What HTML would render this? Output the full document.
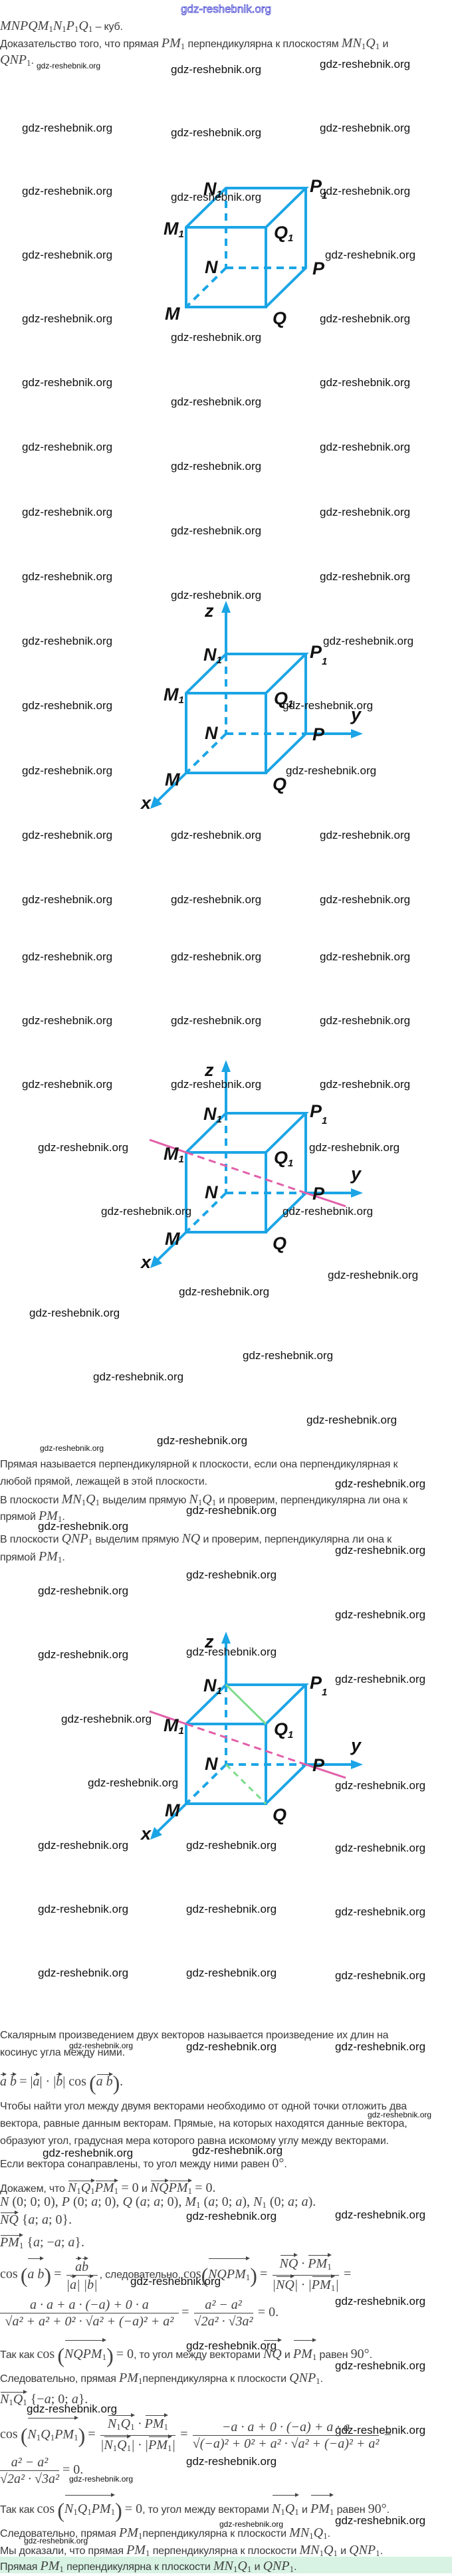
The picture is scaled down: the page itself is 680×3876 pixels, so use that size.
<!DOCTYPE html>
<html><head><meta charset="utf-8">
<style>
html,body{margin:0;padding:0;background:#fff}
body{width:680px;height:3872px;position:relative;overflow:hidden;font-family:"Liberation Sans",sans-serif}
.t{position:absolute;left:0;white-space:nowrap;font-size:16px;color:#3a3a3a;line-height:20px;letter-spacing:-0.2px}
.m{font-family:"Liberation Serif",serif;font-style:italic;font-size:20px;color:#444;letter-spacing:0}
.n{font-family:"Liberation Serif",serif;font-style:normal;font-size:20px;color:#444;letter-spacing:0}
sub{font-size:13px;vertical-align:-3px;font-style:normal}
sup{font-size:12px;vertical-align:7px}
.v{display:inline-block;position:relative;padding-top:2px}
.v::before{content:"";position:absolute;left:1px;right:3px;top:1px;border-top:1px solid #444}
.v::after{content:"";position:absolute;right:0;top:-2px;border-left:6px solid #444;border-top:3px solid transparent;border-bottom:3px solid transparent}
.fr{display:inline-block;vertical-align:middle;text-align:center;margin:0 3px}
.fr>span{display:block;line-height:24px}
.fr>span:first-child{border-bottom:1px solid #444}
.big{font-size:32px;font-family:"Liberation Serif",serif;font-style:normal;color:#444;vertical-align:middle}
svg{position:absolute;left:0;top:0}
</style></head><body>
<svg width="680" height="3872" viewBox="0 0 680 3872">
<defs>
<g id="cube" fill="none" stroke="#1ba5e6" stroke-width="4">
<polyline points="280,59 400,59 400,179 280,179 280,59 340,0 460,0 400,59"/>
<polyline points="460,0 460,120 400,179"/>
<g stroke-dasharray="11,8"><line x1="340" y1="0" x2="340" y2="120"/><line x1="340" y1="120" x2="460" y2="120"/><line x1="340" y1="120" x2="280" y2="179"/></g>
</g>
<g id="lab" font-family="Liberation Sans" font-weight="bold" font-style="italic" font-size="27" fill="#111">
<text x="306" y="10">N<tspan font-size="15" dy="4">1</tspan></text>
<text x="466" y="6">P<tspan font-size="15" dy="10">1</tspan></text>
<text x="246" y="70">M<tspan font-size="15" dy="4">1</tspan></text>
<text x="412" y="76">Q<tspan font-size="15" dy="4">1</tspan></text>
<text x="308" y="128">N</text>
<text x="470" y="130">P</text>
<text x="248" y="198">M</text>
<text x="410" y="205">Q</text>
</g>
<g id="ax" fill="#1ba5e6" stroke="#1ba5e6" stroke-width="4">
<line x1="340" y1="0" x2="340" y2="-66"/><polygon stroke="none" points="340,-80 333,-62 347,-62"/>
<line x1="460" y1="120" x2="532" y2="120"/><polygon stroke="none" points="546,120 528,113 528,127"/>
<line x1="280" y1="179" x2="235" y2="223"/><polygon stroke="none" points="226,233 232,214 244,226"/>
<g stroke="none" fill="#111" font-family="Liberation Sans" font-weight="bold" font-style="italic" font-size="27"><text x="308" y="-56">z</text><text x="528" y="100">y</text><text x="212" y="233">x</text></g>
</g>
<g id="mag" stroke="#e25fa9" stroke-width="3" fill="none">
<line x1="225" y1="40" x2="280" y2="59"/><line x1="280" y1="59" x2="460" y2="120" stroke-dasharray="11,7"/><line x1="460" y1="120" x2="520" y2="140"/>
</g>
</defs>
<g transform="translate(0,283)"><use href="#cube"/><use href="#lab"/></g>
<g transform="translate(0,984)"><use href="#ax"/><use href="#cube"/><use href="#lab"/></g>
<g transform="translate(0,1675)"><use href="#ax"/><use href="#cube"/><use href="#mag"/><use href="#lab"/></g>
<g transform="translate(0,2535)"><use href="#ax"/><use href="#cube"/>
<line x1="340" y1="0" x2="400" y2="59" stroke="#7ddc8c" stroke-width="3"/>
<line x1="340" y1="120" x2="400" y2="179" stroke="#7ddc8c" stroke-width="3" stroke-dasharray="9,7"/>
<use href="#mag"/><use href="#lab"/></g>
<text x="340" y="19" text-anchor="middle" font-family="Liberation Sans" font-size="17" fill="#fff" stroke="#3a3ad0" stroke-width="0.8">gdz-reshebnik.org</text>
<g font-family="Liberation Sans" font-size="17" fill="#111">
<text x="481" y="102">gdz-reshebnik.org</text><text x="257" y="110">gdz-reshebnik.org</text>
<text x="33" y="198">gdz-reshebnik.org</text><text x="257" y="205">gdz-reshebnik.org</text><text x="481" y="198">gdz-reshebnik.org</text>
<text x="33" y="293">gdz-reshebnik.org</text><text x="257" y="302">gdz-reshebnik.org</text><text x="481" y="293">gdz-reshebnik.org</text>
<text x="33" y="389">gdz-reshebnik.org</text><text x="489" y="389">gdz-reshebnik.org</text>
<text x="33" y="485">gdz-reshebnik.org</text><text x="481" y="485">gdz-reshebnik.org</text>
<text x="257" y="513">gdz-reshebnik.org</text>
<text x="33" y="581">gdz-reshebnik.org</text><text x="481" y="581">gdz-reshebnik.org</text><text x="257" y="610">gdz-reshebnik.org</text>
<text x="33" y="678">gdz-reshebnik.org</text><text x="481" y="678">gdz-reshebnik.org</text><text x="257" y="707">gdz-reshebnik.org</text>
<text x="33" y="776">gdz-reshebnik.org</text><text x="481" y="776">gdz-reshebnik.org</text><text x="257" y="804">gdz-reshebnik.org</text>
<text x="33" y="873">gdz-reshebnik.org</text><text x="481" y="873">gdz-reshebnik.org</text><text x="257" y="901">gdz-reshebnik.org</text>
<text x="33" y="970">gdz-reshebnik.org</text><text x="486" y="970">gdz-reshebnik.org</text>
<text x="33" y="1067">gdz-reshebnik.org</text><text x="425" y="1067">gdz-reshebnik.org</text>
<text x="33" y="1165">gdz-reshebnik.org</text><text x="430" y="1165">gdz-reshebnik.org</text>
<text x="33" y="1262">gdz-reshebnik.org</text><text x="257" y="1262">gdz-reshebnik.org</text><text x="481" y="1262">gdz-reshebnik.org</text>
<text x="33" y="1359">gdz-reshebnik.org</text><text x="257" y="1359">gdz-reshebnik.org</text><text x="481" y="1359">gdz-reshebnik.org</text>
<text x="33" y="1445">gdz-reshebnik.org</text><text x="257" y="1445">gdz-reshebnik.org</text><text x="481" y="1445">gdz-reshebnik.org</text>
<text x="33" y="1541">gdz-reshebnik.org</text><text x="257" y="1541">gdz-reshebnik.org</text><text x="481" y="1541">gdz-reshebnik.org</text>
<text x="33" y="1637">gdz-reshebnik.org</text><text x="257" y="1637">gdz-reshebnik.org</text><text x="481" y="1637">gdz-reshebnik.org</text>
<text x="57" y="1732">gdz-reshebnik.org</text><text x="465" y="1732">gdz-reshebnik.org</text>
<text x="152" y="1828">gdz-reshebnik.org</text><text x="425" y="1828">gdz-reshebnik.org</text>
<text x="493" y="1924">gdz-reshebnik.org</text><text x="269" y="1949">gdz-reshebnik.org</text><text x="44" y="1981">gdz-reshebnik.org</text>
<text x="365" y="2045">gdz-reshebnik.org</text><text x="140" y="2077">gdz-reshebnik.org</text>
<text x="461" y="2142">gdz-reshebnik.org</text><text x="236" y="2173">gdz-reshebnik.org</text>
<text x="504" y="2238">gdz-reshebnik.org</text><text x="280" y="2278">gdz-reshebnik.org</text><text x="57" y="2302">gdz-reshebnik.org</text>
<text x="504" y="2338">gdz-reshebnik.org</text><text x="280" y="2375">gdz-reshebnik.org</text><text x="57" y="2399">gdz-reshebnik.org</text>
<text x="504" y="2435">gdz-reshebnik.org</text><text x="57" y="2495">gdz-reshebnik.org</text><text x="280" y="2491">gdz-reshebnik.org</text>
<text x="504" y="2532">gdz-reshebnik.org</text><text x="92" y="2592">gdz-reshebnik.org</text>
<text x="132" y="2688">gdz-reshebnik.org</text><text x="504" y="2692">gdz-reshebnik.org</text>
<text x="57" y="2782">gdz-reshebnik.org</text><text x="280" y="2782">gdz-reshebnik.org</text><text x="504" y="2786">gdz-reshebnik.org</text>
<text x="57" y="2878">gdz-reshebnik.org</text><text x="280" y="2878">gdz-reshebnik.org</text><text x="504" y="2882">gdz-reshebnik.org</text>
<text x="57" y="2974">gdz-reshebnik.org</text><text x="280" y="2974">gdz-reshebnik.org</text><text x="504" y="2978">gdz-reshebnik.org</text>
<text x="280" y="3085">gdz-reshebnik.org</text><text x="504" y="3085">gdz-reshebnik.org</text>
<text x="64" y="3245">gdz-reshebnik.org</text><text x="289" y="3241">gdz-reshebnik.org</text>
<text x="280" y="3340">gdz-reshebnik.org</text><text x="504" y="3338">gdz-reshebnik.org</text>
<text x="196" y="3438">gdz-reshebnik.org</text><text x="504" y="3468">gdz-reshebnik.org</text>
<text x="280" y="3535">gdz-reshebnik.org</text><text x="504" y="3565">gdz-reshebnik.org</text>
<text x="40" y="3630">gdz-reshebnik.org</text><text x="504" y="3662">gdz-reshebnik.org</text><text x="280" y="3709">gdz-reshebnik.org</text>
<text x="504" y="3798">gdz-reshebnik.org</text>
</g>
<g font-family="Liberation Sans" font-size="12" fill="#111">
<text x="55" y="103">gdz-reshebnik.org</text><text x="60" y="2183">gdz-reshebnik.org</text>
<text x="104" y="3082">gdz-reshebnik.org</text><text x="553" y="3186">gdz-reshebnik.org</text>
<text x="104" y="3734">gdz-reshebnik.org</text><text x="330" y="3802">gdz-reshebnik.org</text><text x="36" y="3827">gdz-reshebnik.org</text>
</g>
</svg>
<div style="position:absolute;left:0;top:3847px;width:680px;height:25px;background:#d8f3e4"></div>

<div class="t" style="top:29px"><span class="m">MNPQM<sub>1</sub>N<sub>1</sub>P<sub>1</sub>Q<sub>1</sub></span> – куб.</div>
<div class="t" style="top:55px">Доказательство того, что прямая <span class="m">PM<sub>1</sub></span> перпендикулярна к плоскостям <span class="m">MN<sub>1</sub>Q<sub>1</sub></span> и</div>
<div class="t" style="top:80px"><span class="m">QNP<sub>1</sub></span>.</div>

<div class="t" style="top:2194px">Прямая называется перпендикулярной к плоскости, если она перпендикулярная к</div>
<div class="t" style="top:2220px">любой прямой, лежащей в этой плоскости.</div>
<div class="t" style="top:2246px">В плоскости <span class="m">MN<sub>1</sub>Q<sub>1</sub></span> выделим прямую <span class="m">N<sub>1</sub>Q<sub>1</sub></span> и проверим, перпендикулярна ли она к</div>
<div class="t" style="top:2271px">прямой <span class="m">PM<sub>1</sub></span>.</div>
<div class="t" style="top:2305px">В плоскости <span class="m">QNP<sub>1</sub></span> выделим прямую <span class="m">NQ</span> и проверим, перпендикулярна ли она к</div>
<div class="t" style="top:2332px">прямой <span class="m">PM<sub>1</sub></span>.</div>

<div class="t" style="top:3053px">Скалярным произведением двух векторов называется произведение их длин на</div>
<div class="t" style="top:3079px">косинус угла между ними.</div>
<div class="t" style="top:3120px"><span class="m"><span class="v">a</span> <span class="v">b</span></span> <span class="n">= |<i class="v">a</i>| · |<i class="v">b</i>| cos</span> <span class="big">(</span><span class="m"><span class="v">a b</span></span><span class="big">)</span><span class="n">.</span></div>
<div class="t" style="top:3160px">Чтобы найти угол между двумя векторами необходимо от одной точки отложить два</div>
<div class="t" style="top:3186px">вектора, равные данным векторам. Прямые, на которых находятся данные вектора,</div>
<div class="t" style="top:3212px">образуют угол, градусная мера которого равна искомому углу между векторами.</div>
<div class="t" style="top:3245px">Если вектора сонаправлены, то угол между ними равен <span class="n">0°</span>.</div>
<div class="t" style="top:3280px">Докажем, что <span class="m"><span class="v">N<sub>1</sub>Q<sub>1</sub></span><span class="v">PM<sub>1</sub></span></span> <span class="n">= 0</span> и <span class="m"><span class="v">NQ</span><span class="v">PM<sub>1</sub></span></span> <span class="n">= 0.</span></div>
<div class="t" style="top:3303px"><span class="m">N</span><span class="n"> (0; 0; 0), </span><span class="m">P</span><span class="n"> (0; <i>a</i>; 0), </span><span class="m">Q</span><span class="n"> (<i>a</i>; <i>a</i>; 0), </span><span class="m">M<sub>1</sub></span><span class="n"> (<i>a</i>; 0; <i>a</i>), </span><span class="m">N<sub>1</sub></span><span class="n"> (0; <i>a</i>; <i>a</i>).</span></div>
<div class="t" style="top:3328px"><span class="m"><span class="v">NQ</span></span><span class="n"> {<i>a</i>; <i>a</i>; 0}.</span></div>
<div class="t" style="top:3362px"><span class="m"><span class="v">PM<sub>1</sub></span></span><span class="n"> {<i>a</i>; −<i>a</i>; <i>a</i>}.</span></div>
<div class="t" style="top:3392px;line-height:46px"><span class="n">cos</span> <span class="big">(</span><span class="m v">a b</span><span class="big">)</span> <span class="n">=</span> <span class="fr m"><span><i class="v">a</i><i class="v">b</i></span><span>|<i class="v">a</i>| |<i class="v">b</i>|</span></span>, следовательно, <span class="n">cos</span><span class="big">(</span><span class="m v">NQPM<sub>1</sub></span><span class="big">)</span> <span class="n">=</span> <span class="fr m"><span><i class="v">NQ</i> · <i class="v">PM<sub>1</sub></i></span><span>|<i class="v">NQ</i>| · |<i class="v">PM<sub>1</sub></i>|</span></span> <span class="n">=</span></div>
<div class="t" style="top:3455px;line-height:48px"><span class="fr m" style="margin:0"><span>&nbsp;&nbsp;&nbsp;&nbsp;&nbsp;&nbsp;&nbsp;&nbsp;&nbsp;a · a + a · (−a) + 0 · a&nbsp;&nbsp;&nbsp;&nbsp;&nbsp;&nbsp;&nbsp;&nbsp;&nbsp;</span><span>√a² + a² + 0² · √a² + (−a)² + a²</span></span> <span class="n">=</span> <span class="fr m"><span>a² − a²</span><span>√2a² · √3a²</span></span> <span class="n">= 0.</span></div>
<div class="t" style="top:3520px;line-height:40px">Так как <span class="n">cos</span> <span class="big">(</span><span class="m v">NQPM<sub>1</sub></span><span class="big">)</span> <span class="n">= 0</span>, то угол между векторами <span class="m v">NQ</span> и <span class="m v">PM<sub>1</sub></span> равен <span class="n">90°</span>.</div>
<div class="t" style="top:3568px">Следовательно, прямая <span class="m">PM<sub>1</sub></span>перпендикулярна к плоскости <span class="m">QNP<sub>1</sub></span>.</div>
<div class="t" style="top:3598px"><span class="m v">N<sub>1</sub>Q<sub>1</sub></span><span class="n"> {−<i>a</i>; 0; <i>a</i>}.</span></div>
<div class="t" style="top:3633px;line-height:48px"><span class="n">cos</span> <span class="big">(</span><span class="m v">N<sub>1</sub>Q<sub>1</sub>PM<sub>1</sub></span><span class="big">)</span> <span class="n">=</span> <span class="fr m"><span><i class="v">N<sub>1</sub>Q<sub>1</sub></i> · <i class="v">PM<sub>1</sub></i></span><span>|<i class="v">N<sub>1</sub>Q<sub>1</sub></i>| · |<i class="v">PM<sub>1</sub></i>|</span></span> <span class="n">=</span> <span class="fr m"><span>−a · a + 0 · (−a) + a · a</span><span>√(−a)² + 0² + a² · √a² + (−a)² + a²</span></span> <span class="n">=</span></div>
<div class="t" style="top:3692px;line-height:48px"><span class="fr m" style="margin:0"><span>a² − a²</span><span>√2a² · √3a²</span></span><span class="n"> = 0.</span></div>
<div class="t" style="top:3753px;line-height:40px">Так как <span class="n">cos</span> <span class="big">(</span><span class="m v">N<sub>1</sub>Q<sub>1</sub>PM<sub>1</sub></span><span class="big">)</span> <span class="n">= 0</span>, то угол между векторами <span class="m v">N<sub>1</sub>Q<sub>1</sub></span> и <span class="m v">PM<sub>1</sub></span> равен <span class="n">90°</span>.</div>
<div class="t" style="top:3801px">Следовательно, прямая <span class="m">PM<sub>1</sub></span>перпендикулярна к плоскости <span class="m">MN<sub>1</sub>Q<sub>1</sub></span>.</div>
<div class="t" style="top:3827px">Мы доказали, что прямая <span class="m">PM<sub>1</sub></span> перпендикулярна к плоскости <span class="m">MN<sub>1</sub>Q<sub>1</sub></span> и <span class="m">QNP<sub>1</sub></span>.</div>
<div class="t" style="top:3851px">Прямая <span class="m">PM<sub>1</sub></span> перпендикулярна к плоскости <span class="m">MN<sub>1</sub>Q<sub>1</sub></span> и <span class="m">QNP<sub>1</sub></span>.</div>
</body></html>
